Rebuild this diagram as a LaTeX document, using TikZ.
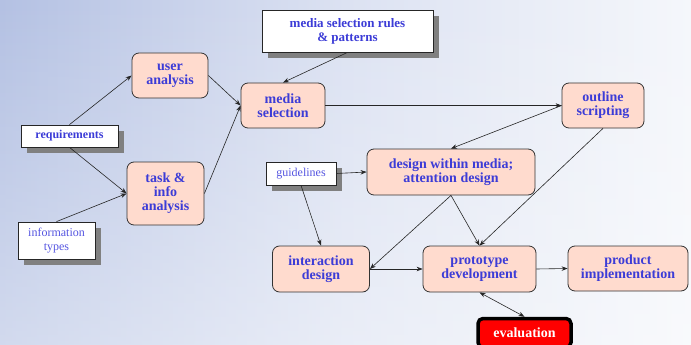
\documentclass[tikz,border=0pt]{standalone}
\usepackage{fontspec}
\setmainfont{Liberation Serif}
\usetikzlibrary{arrows.meta,shadows,fadings}

\definecolor{boxpink}{RGB}{255,219,206}
\definecolor{txtblue}{RGB}{60,60,215}
\definecolor{lightblue}{RGB}{85,85,225}
\definecolor{bgleft}{RGB}{135,155,208}
\definecolor{bgnear}{RGB}{180,193,227}
\definecolor{bgmid}{RGB}{220,226,242}
\definecolor{bgright}{RGB}{245,247,251}
\pgfdeclarehorizontalshading{backwash}{100bp}{color(0bp)=(bgleft); color(25bp)=(bgnear);
  color(50bp)=(bgmid); color(75bp)=(bgright); color(100bp)=(bgright)}

\tikzset{
  stage/.style={draw=black!80, fill=boxpink, rounded corners=7pt, line width=0.8pt,
    align=center, text=txtblue, font=\bfseries\fontsize{14}{14}\selectfont},
  note/.style={draw=black!85, fill=white, line width=0.8pt, align=center,
    text=txtblue, font=\bfseries\fontsize{13}{14}\selectfont,
    drop shadow={shadow xshift=6pt, shadow yshift=-6pt, fill=black!50, opacity=1}},
  plainnote/.style={note, text=lightblue, font=\fontsize{12}{13.5}\selectfont},
  flow/.style={draw=black!85, line width=0.6pt, -{Stealth[length=6pt,width=4.5pt]}},
}

\begin{document}
\begin{tikzpicture}[x=1pt,y=1pt]
\tikzstyle{every node}+=[inner sep=0pt]
\useasboundingbox (0,0) rectangle (691,-345);
% background
\shade[shading=backwash] (0,0) rectangle (691,-345);
\fill[white, path fading=north, opacity=0.4] (0,0) rectangle (691,-345);
% boxes
\node [stage, minimum width=76, minimum height=45] (user) at (170,-75.5) {user\\analysis};
\node [stage, minimum width=84, minimum height=45] (media) at (283,-105.5) {media\\selection};
\node [note, minimum width=171, minimum height=42] (rules) at (347.5,-31) {media selection rules\\\& patterns};
\node [note, minimum width=97, minimum height=22, font=\bfseries\fontsize{12}{13.5}\selectfont] (req) at (69.5,-136) {requirements};
\node [stage, minimum width=77, minimum height=63] (task) at (165.5,-193.5) {task \&\\info\\analysis};
\node [plainnote, minimum width=77, minimum height=37] (info) at (56.5,-240.5) {information\\types};
\node [plainnote, minimum width=70, minimum height=23] (guide) at (301,-173.5) {guidelines};
\node [stage, minimum width=168, minimum height=46] (design) at (451,-172) {design within media;\\attention design};
\node [stage, minimum width=82, minimum height=45] (outline) at (603,-105.5) {outline\\scripting};
\node [stage, minimum width=97, minimum height=46] (inter) at (321,-269) {interaction\\design};
\node [stage, minimum width=113, minimum height=46] (proto) at (479.5,-269) {prototype\\development};
\node [stage, minimum width=120, minimum height=45] (product) at (628,-268.5) {product\\implementation};
\node [draw=black, line width=3.5pt, fill=red, rounded corners=5pt, text=white,
  font=\bfseries\fontsize{14}{14}\selectfont, minimum width=93, minimum height=29] (eval) at (524.5,-333) {evaluation};
% connectors
\draw [flow] (req.north) -- (user.west);
\draw [flow] (req.south) -- (task.west);
\draw [flow] (info.north) -- (task.west);
\draw [flow] (user.east) -- (media.west);
\draw [flow] (task.east) -- (media.west);
\draw [flow] (rules.south) -- (media.north);
\draw [flow] (media.east) -- (outline.west);
\draw [flow] (outline.west) -- (design.north);
\draw [flow] (guide.east) -- (design.west);
\draw [flow] (guide.south) -- (inter.north);
\draw [flow] (design.south) -- (inter.east);
\draw [flow] (design.south) -- (proto.north);
\draw [flow] (outline.south) -- (proto.north);
\draw [flow] (inter.east) -- (proto.west);
\draw [flow] (proto.east) -- (product.west);
\draw [flow, {Stealth[length=6pt,width=4.5pt]}-{Stealth[length=6pt,width=4.5pt]}] (proto.south) -- (eval.north);
\end{tikzpicture}
\end{document}
